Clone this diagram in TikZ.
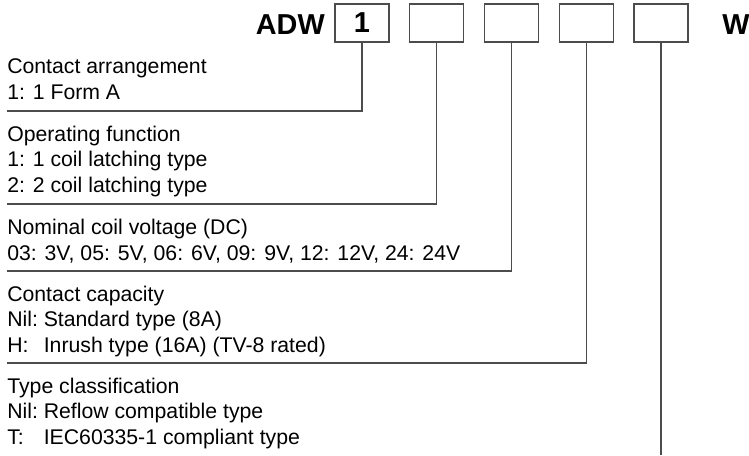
\documentclass[tikz,border=0pt]{standalone}
\usepackage{fontspec}
\setmainfont{Liberation Sans}
\usetikzlibrary{positioning}

% fixed-width key in front of an option text
\newcommand{\codekey}[1]{\makebox[1.72em][l]{#1}}

\begin{document}
\begin{tikzpicture}[
    x=0.025cm, y=-0.025cm,
    codefont/.style={font=\fontsize{20.5}{24}\selectfont\bfseries, inner sep=0pt},
    codebox/.style={
        draw=black!70,
        line width=0.85pt,
        minimum width=1.35cm,
        minimum height=0.95cm,
        inner sep=0pt,
        font=\fontsize{20.5}{24}\selectfont\bfseries
    },
    infotext/.style={
        font=\fontsize{15.1}{17.8}\selectfont,
        align=left,
        inner sep=0pt
    },
    leader/.style={draw=black!70, line width=0.85pt}
]
    \useasboundingbox (0,0) rectangle (749,455);

    % Part number header
    \node[codefont, anchor=base east] (prefix) at (325,34) {ADW};
    \foreach \i/\t in {1/1,2/,3/,4/,5/} {
        \node[codebox] (box\i) at ({362+74.75*(\i-1)},23) {\t};
    }
    \node[codefont, anchor=base west] (suffix) at (722,34) {W};

    % Descriptions of each position (base = last line)
    \node[infotext, anchor=base west] (arrange) at (7,99)
        {Contact arrangement\\1: 1 Form A};
    \node[infotext, anchor=base west] (function) at (7,192)
        {Operating function\\1: 1 coil latching type\\2: 2 coil latching type};
    \node[infotext, anchor=base west] (voltage) at (7,260)
        {Nominal coil voltage (DC)\\03: 3V, 05: 5V, 06: 6V, 09: 9V, 12: 12V, 24: 24V};
    \node[infotext, anchor=base west] (capacity) at (7,352)
        {Contact capacity\\\codekey{Nil:}Standard type (8A)\\\codekey{H:}Inrush type (16A) (TV-8 rated)};
    \node[infotext, anchor=base west] (classify) at (7,444)
        {Type classification\\\codekey{Nil:}Reflow compatible type\\\codekey{T:}IEC60335-1 compliant type};

    % Leader lines from the boxes
    \coordinate (arrangeend) at (7,111);
    \coordinate (functionend) at (7,204);
    \coordinate (voltageend) at (7,271);
    \coordinate (capacityend) at (7,363);
    \coordinate (classifyend) at (661,455);

    \draw[leader] (box1.south) |- (arrangeend);
    \draw[leader] (box2.south) |- (functionend);
    \draw[leader] (box3.south) |- (voltageend);
    \draw[leader] (box4.south) |- (capacityend);
    \draw[leader] (box5.south) -- (classifyend);
\end{tikzpicture}
\end{document}
